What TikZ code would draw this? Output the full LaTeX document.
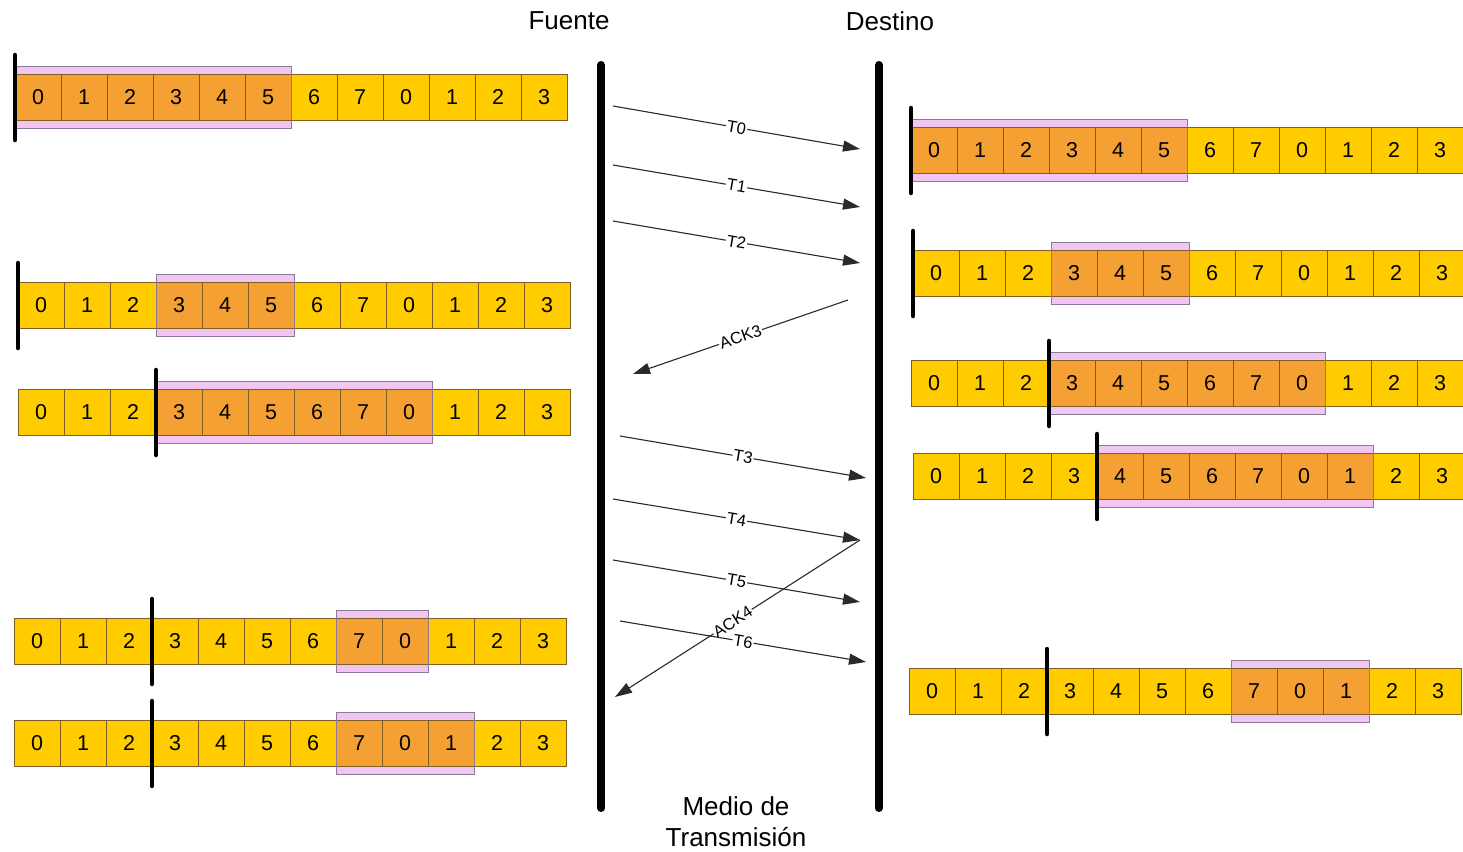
\documentclass[tikz,border=0pt]{standalone}
\usepackage{fontspec}
\setmainfont{Liberation Sans}
\usetikzlibrary{arrows.meta,calc}
\definecolor{slamarillo}{HTML}{FFCC00}
\definecolor{slnaranja}{HTML}{F5A033}
\definecolor{slrosa}{HTML}{F2C6F2}
\definecolor{slborde}{HTML}{7E5E22}
\definecolor{slmarco}{HTML}{8C7A96}
\definecolor{sltinta}{HTML}{2A2A2A}

% una fila de la secuencia: nombre, x0, y centro, inicio y fin de ventana, barra
\newcommand{\fila}[6]{%
  \fill[ventana] (#2+46*#4,#3-31) rectangle (#2+46*#5+46,#3+31);
  \foreach \i [evaluate=\i as \n using {int(mod(\i,8))},
               evaluate=\i as \h using {int(and(\i>=#4,\i<=#5))}] in {0,...,11}
    \node[celda\h] (#1-\i) at (#2+46*\i+23,#3) {\n};
  \draw[ventanaborde] (#2+46*#4,#3-31) rectangle (#2+46*#5+46,#3+31);
  \draw[barra] (#2+46*#6,#3-42) -- (#2+46*#6,#3+43);
}

\begin{document}
\begin{tikzpicture}[
  x=1pt, y=-1pt,
  font=\fontsize{26}{30}\selectfont,
  celda/.style={draw=slborde, line width=0.9pt, minimum width=46pt,
    minimum height=46pt, inner sep=0pt, font=\fontsize{21.5}{24}\selectfont},
  celda0/.style={celda, fill=slamarillo},
  celda1/.style={celda, fill=slnaranja},
  ventana/.style={fill=slrosa},
  ventanaborde/.style={draw=slmarco, line width=1pt},
  barra/.style={line width=4.5pt, line cap=round},
  medio/.style={line width=8pt, line cap=round},
  msg/.style={-{Triangle[length=17pt,width=11pt]}, draw=sltinta, line width=1.1pt},
  etiq/.style={sloped, fill=white, inner sep=1pt, font=\fontsize{16.5}{18}\selectfont},
  ]
  \useasboundingbox (0,0) rectangle (1463,851);

  % titulos
  \node (fuente) at (569,21) {Fuente};
  \node (destino) at (890,21) {Destino};
  \node[align=center, font=\fontsize{26}{31}\selectfont] (medio) at (736,822) {Medio de\\Transmisión};

  % medio de transmision
  \draw[medio] (601,65) -- (601,808);
  \draw[medio] (879,65) -- (879,808);

  % lado fuente
  \fila{f1}{15}{97}{0}{5}{0}
  \fila{f2}{18}{305}{3}{5}{0}
  \fila{f3}{18}{412}{3}{8}{3}
  \fila{f4}{14}{641}{7}{8}{3}
  \fila{f5}{14}{743}{7}{9}{3}

  % lado destino
  \fila{d1}{911}{150}{0}{5}{0}
  \fila{d2}{913}{273}{3}{5}{0}
  \fila{d3}{911}{383}{3}{8}{3}
  \fila{d4}{913}{476}{4}{9}{4}
  \fila{d5}{909}{691}{7}{9}{3}

  % tramas y acuses
  \coordinate (t0a) at (613,106);  \coordinate (t0b) at (860,149);
  \coordinate (t1a) at (613,165);  \coordinate (t1b) at (860,207);
  \coordinate (t2a) at (613,221);  \coordinate (t2b) at (860,263);
  \coordinate (k3a) at (848,300);  \coordinate (k3b) at (633,374);
  \coordinate (t3a) at (620,436);  \coordinate (t3b) at (866,478);
  \coordinate (t4a) at (613,499);  \coordinate (t4b) at (860,540);
  \coordinate (t5a) at (613,560);  \coordinate (t5b) at (860,602);
  \coordinate (t6a) at (620,621);  \coordinate (t6b) at (866,662);
  \coordinate (k4b) at (615,697);

  \draw[msg] (t0a) -- node[etiq] {T0} (t0b);
  \draw[msg] (t1a) -- node[etiq] {T1} (t1b);
  \draw[msg] (t2a) -- node[etiq] {T2} (t2b);
  \draw[msg] (k3a) -- node[etiq] {ACK3} (k3b);
  \draw[msg] (t3a) -- node[etiq] {T3} (t3b);
  \draw[msg] (t4a) -- node[etiq] {T4} (t4b);
  \draw[msg] (t5a) -- node[etiq] {T5} (t5b);
  \draw[msg] (t4b) -- node[etiq, pos=0.52] {ACK4} (k4b);
  \draw[msg] (t6a) -- node[etiq] {T6} (t6b);
\end{tikzpicture}
\end{document}
